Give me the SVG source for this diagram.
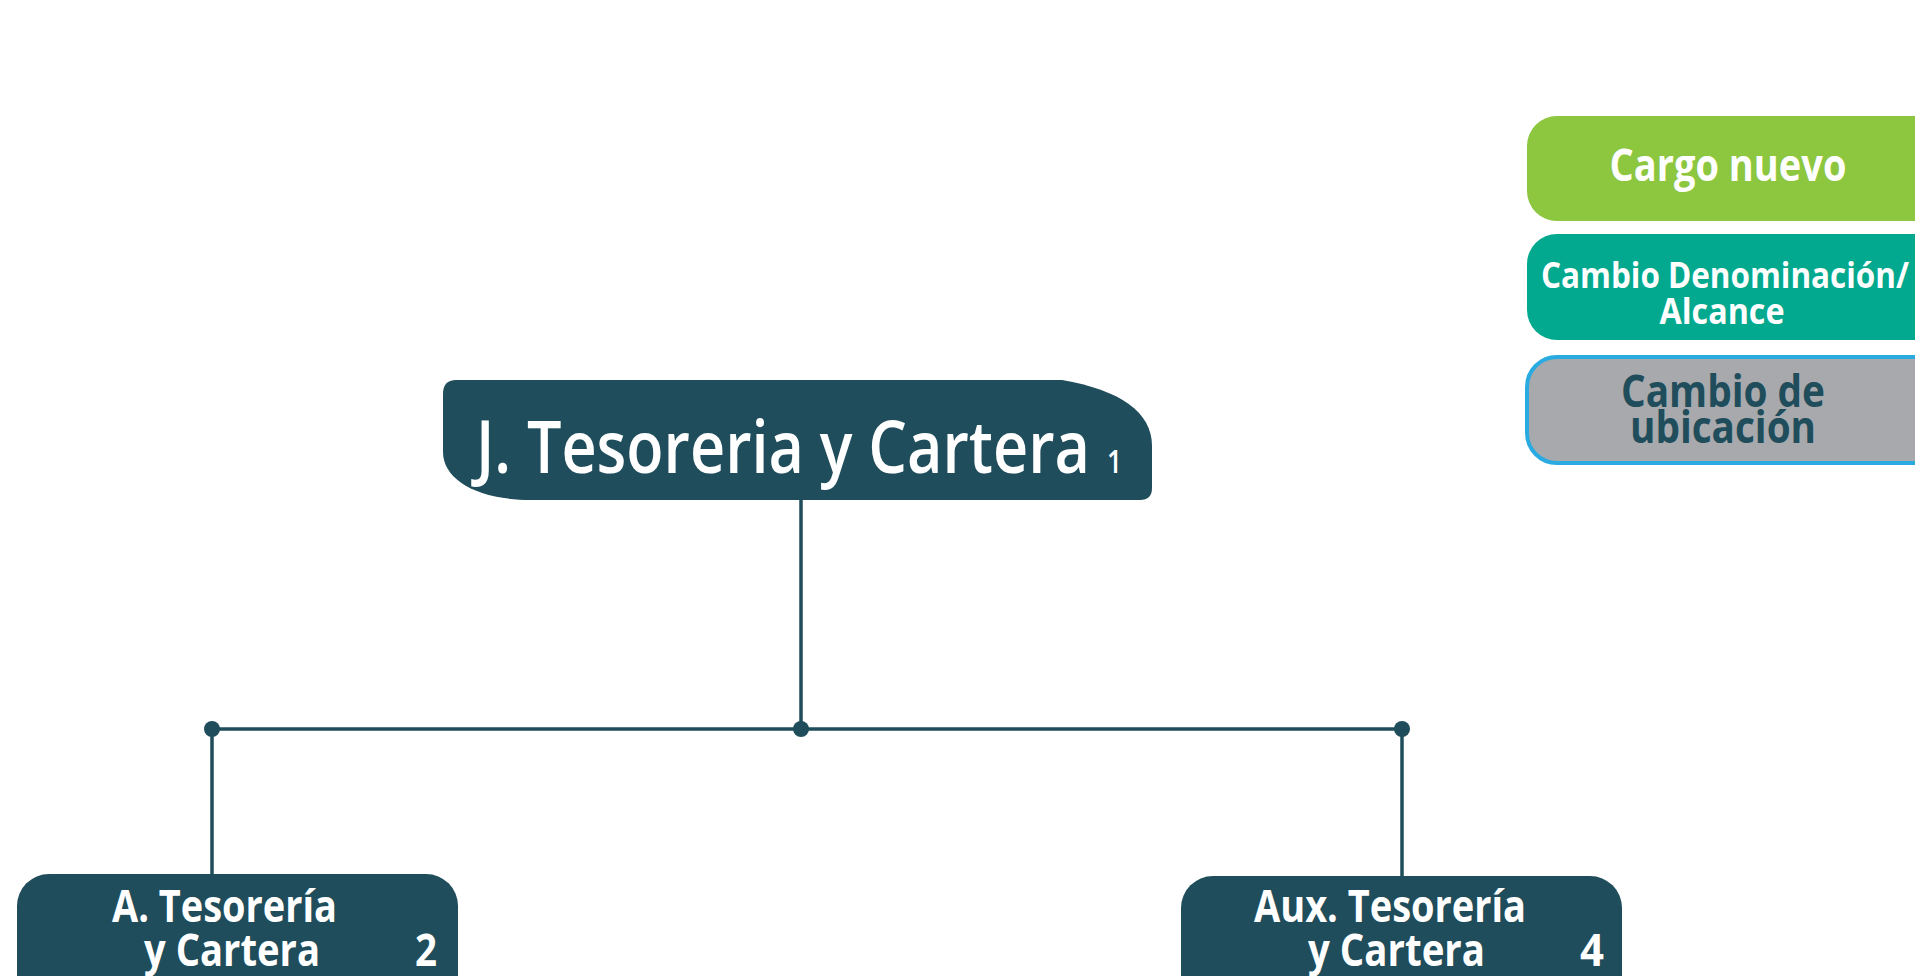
<svg xmlns="http://www.w3.org/2000/svg" width="1915" height="976" viewBox="0 0 1915 976">
<style>
.t{font-family:"Open Sans","Liberation Sans",sans-serif;font-weight:700;}
.m{font-weight:600;}
.w{fill:#ffffff;}
.d{fill:#1F4D5B;}
.ln{stroke:#1F4D5B;stroke-width:3.5;fill:none;}
.dot{fill:#1F4D5B;}
</style>
<rect width="1915" height="976" fill="#ffffff"/>
<g id="connectors">
<line class="ln" x1="801" y1="500" x2="801" y2="729"/>
<line class="ln" x1="212" y1="729" x2="1402" y2="729"/>
<line class="ln" x1="212" y1="729" x2="212" y2="876"/>
<line class="ln" x1="1402" y1="729" x2="1402" y2="876"/>
<circle class="dot" cx="212" cy="729" r="8"/>
<circle class="dot" cx="801" cy="729" r="8"/>
<circle class="dot" cx="1402" cy="729" r="8"/>
</g>
<g id="node-jefe">
<path class="d" d="M 456 380 H 1062 C 1120 390 1152 412 1152 446 V 488 Q 1152 500 1140 500 H 531 C 478 500 443 480 443 452 V 394 Q 443 380 456 380 Z"/>
<text class="t m w" x="476" y="473" font-size="72" textLength="614" lengthAdjust="spacingAndGlyphs">J. Tesoreria y Cartera</text>
<text class="t m w" x="1107" y="473" font-size="32" textLength="15" lengthAdjust="spacingAndGlyphs">1</text>
</g>
<g id="node-analista">
<rect class="d" x="17" y="874" width="441" height="140" rx="32"/>
<text class="t w" x="112" y="922" font-size="44" textLength="225" lengthAdjust="spacingAndGlyphs">A. Tesorería</text>
<text class="t w" x="144" y="966" font-size="44" textLength="176" lengthAdjust="spacingAndGlyphs">y Cartera</text>
<text class="t w" x="415" y="966" font-size="44" textLength="22" lengthAdjust="spacingAndGlyphs">2</text>
</g>
<g id="node-auxiliar">
<rect class="d" x="1181" y="876" width="441" height="140" rx="32"/>
<text class="t w" x="1254" y="922" font-size="44" textLength="272" lengthAdjust="spacingAndGlyphs">Aux. Tesorería</text>
<text class="t w" x="1308" y="966" font-size="44" textLength="177" lengthAdjust="spacingAndGlyphs">y Cartera</text>
<text class="t w" x="1580" y="966" font-size="44" textLength="24" lengthAdjust="spacingAndGlyphs">4</text>
</g>
<g id="legend-cargo-nuevo">
<rect x="1527" y="116" width="430" height="105" rx="30" fill="#8DC63F"/>
<text class="t w" x="1728" y="181" font-size="45" text-anchor="middle" textLength="237" lengthAdjust="spacingAndGlyphs">Cargo nuevo</text>
</g>
<g id="legend-cambio-denominacion">
<rect x="1527" y="234" width="430" height="106" rx="30" fill="#03A98E"/>
<text class="t w" x="1725" y="288" font-size="35" text-anchor="middle" textLength="368" lengthAdjust="spacingAndGlyphs">Cambio Denominación/</text>
<text class="t w" x="1722" y="324" font-size="35" text-anchor="middle" textLength="125" lengthAdjust="spacingAndGlyphs">Alcance</text>
</g>
<g id="legend-cambio-ubicacion">
<rect x="1527" y="357" width="430" height="106" rx="30" fill="#A7A9AC" stroke="#29ABE2" stroke-width="4"/>
<text class="t d" x="1723" y="407" font-size="44" text-anchor="middle" textLength="204" lengthAdjust="spacingAndGlyphs">Cambio de</text>
<text class="t d" x="1723" y="443" font-size="44" text-anchor="middle" textLength="186" lengthAdjust="spacingAndGlyphs">ubicación</text>
</g>
</svg>
